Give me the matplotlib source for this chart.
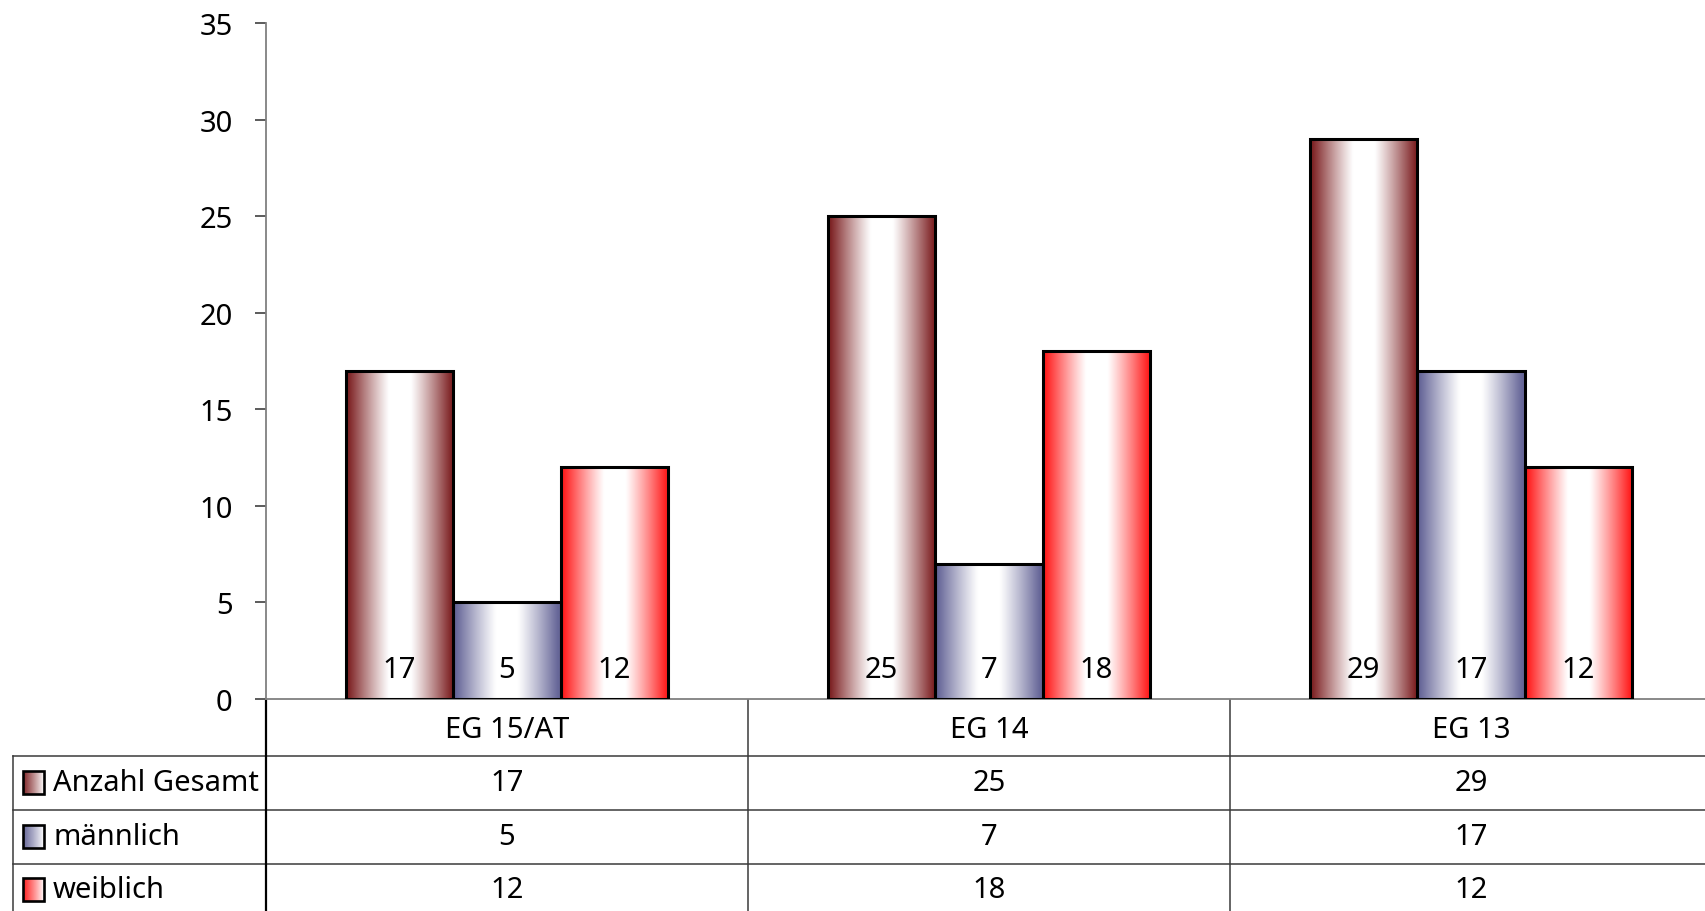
import numpy as np
import matplotlib
matplotlib.use("Agg")
import matplotlib.pyplot as plt
from matplotlib.colors import to_rgb
from matplotlib.patches import Rectangle

# ---- data ----
categories = ["EG 15/AT", "EG 14", "EG 13"]
series_names = ["Anzahl Gesamt", "männlich", "weiblich"]
anzahl_gesamt = [17, 25, 29]
maennlich = [5, 7, 17]
weiblich = [12, 18, 12]
y_ticks = [0, 5, 10, 15, 20, 25, 30, 35]

series_values = [anzahl_gesamt, maennlich, weiblich]
series_colors = ["#7f2426", "#666698", "#ff1f1f"]

plt.rcParams['font.family'] = ['Noto Sans', 'DejaVu Sans']
FS = 21

W, H = 1705, 912
fig = plt.figure(figsize=(W / 100, H / 100), dpi=100)

ax_left, ax_right, ax_top, ax_bottom = 266, 1712, 24, 700
ax = fig.add_axes([ax_left / W, 1 - ax_bottom / H, (ax_right - ax_left) / W, (ax_bottom - ax_top) / H])

n = len(categories)
x = np.arange(n)
bw = 0.223
offsets = [-bw, 0, bw]


def grad_img(color, npts=200, half=False):
    c = np.array(to_rgb(color))
    if half:
        t = 1 - np.linspace(0, 1, npts)
        f = np.clip(t, 0, 1) ** 0.9
    else:
        t = np.abs(np.linspace(0, 1, npts) - 0.5) * 2
        f = np.clip((t - 0.2) / 0.75, 0, 1) ** 1.1
    img = np.ones((1, npts, 3)) * (1 - f)[None, :, None] + c[None, None, :] * f[None, :, None]
    return img


for si, (vals, col) in enumerate(zip(series_values, series_colors)):
    bars = ax.bar(x + offsets[si], vals, width=bw, facecolor='none',
                  edgecolor='black', linewidth=2.2, zorder=3)
    img = grad_img(col)
    for rect in bars:
        x0, y0 = rect.get_x(), rect.get_y()
        w, h = rect.get_width(), rect.get_height()
        ax.imshow(img, extent=(x0, x0 + w, y0, y0 + h), aspect='auto', zorder=2,
                  interpolation='bilinear')
        ax.text(x0 + w / 2, 1.55, f"{int(h)}", ha='center', va='center',
                fontsize=FS, color='black', zorder=4)

ax.set_xlim(-0.5, n - 0.5)
ax.set_ylim(0, 35)
ax.set_yticks(y_ticks)
ax.set_yticklabels([str(t) for t in y_ticks])
ax.set_xticks([])
for s in ['top', 'right']:
    ax.spines[s].set_visible(False)
ax.spines['left'].set_color('#808080')
ax.spines['bottom'].set_color('#808080')
ax.spines['left'].set_linewidth(1.3)
ax.spines['bottom'].set_linewidth(1.3)
ax.tick_params(axis='y', direction='out', length=8, width=1.2, color='#404040',
               labelsize=FS, pad=16)

# ---- data table below ----
ov = fig.add_axes([0, 0, 1, 1], zorder=-1)
ov.axis('off')
ov.patch.set_alpha(0)

col_w = (ax_right - ax_left) / n
col_edges = [ax_left + i * col_w for i in range(n + 1)]
row_edges = [ax_bottom, 757, 811, 865, 912]
tbl_left = 13

for ry in row_edges[1:4]:
    ov.plot([tbl_left, W], [ry, ry], color='#3a3a3a', lw=1.1)
ov.plot([ax_left, ax_left], [ax_bottom, H], color='black', lw=1.6)
for cx in col_edges[1:-1]:
    ov.plot([cx, cx], [ax_bottom, H], color='#3a3a3a', lw=1.1)
ov.plot([tbl_left, tbl_left], [row_edges[1], H], color='#3a3a3a', lw=1.1)

for i, cat in enumerate(categories):
    ov.text((col_edges[i] + col_edges[i + 1]) / 2, (row_edges[0] + row_edges[1]) / 2 + 2, cat,
            ha='center', va='center', fontsize=FS)

row_centers = [784, 838, 891]
for r, (name, vals, col) in enumerate(zip(series_names, series_values, series_colors)):
    yc = row_centers[r]
    kx0, kw, kh = 23, 21, 23
    ov.imshow(grad_img(col, half=True), extent=(kx0, kx0 + kw, yc + kh / 2, yc - kh / 2),
              aspect='auto', zorder=2, interpolation='bilinear')
    ov.add_patch(Rectangle((kx0, yc - kh / 2), kw, kh, facecolor='none',
                           edgecolor='black', lw=1.9, zorder=3))
    ov.text(53, yc, name, ha='left', va='center', fontsize=FS)
    for i, v in enumerate(vals):
        ov.text((col_edges[i] + col_edges[i + 1]) / 2, yc, str(v), ha='center', va='center',
                fontsize=FS)
ov.set_xlim(0, W)
ov.set_ylim(H, 0)

fig.savefig("out.png", dpi=100)
